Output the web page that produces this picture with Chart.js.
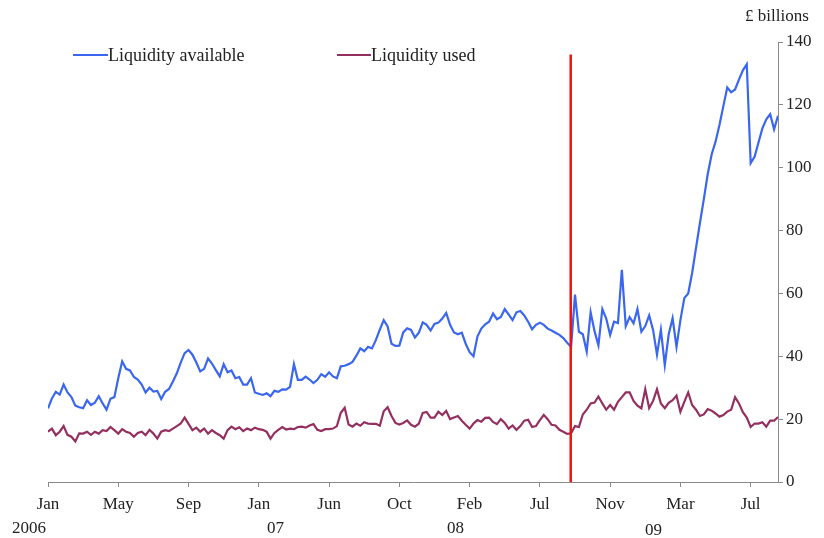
<!DOCTYPE html>
<html lang="en">
<head>
    <meta charset="UTF-8">
    <title>Liquidity available and used</title>
    <script src="https://cdn.jsdelivr.net/npm/chart.js"></script>
    <style>
        body { margin: 0; background: #fff; }
        .wrap { position: relative; width: 824px; height: 538px; font-family: "Liberation Serif", "DejaVu Serif", serif; color: #222; }
        canvas { position: absolute; left: 0; top: 0; }
        .txt { position: absolute; font-size: 17px; line-height: 20px; white-space: nowrap; }
        .legend { font-size: 18px; }
        .key { position: absolute; height: 2px; }
    </style>
</head>
<body>
<div class="wrap">
    <canvas id="liquidityChart" width="824" height="538"></canvas>

    <!-- legend -->
    <div class="key" style="left:73px; top:54px; width:35px; background:#3a66f0;"></div>
    <div class="txt legend" style="left:108px; top:45px;">Liquidity available</div>
    <div class="key" style="left:337px; top:54px; width:34px; background:#94305f;"></div>
    <div class="txt legend" style="left:371px; top:45px;">Liquidity used</div>

    <div class="txt" style="left:745px; top:6px;">£ billions</div>

    <!-- year row under the month ticks -->
    <div class="txt" style="left:12px; top:518px;">2006</div>
    <div class="txt" style="left:267px; top:518px;">07</div>
    <div class="txt" style="left:447px; top:518px;">08</div>
    <div class="txt" style="left:645px; top:520px;">09</div>
</div>

<script>
    // weekly readings, Jan 2006 - Aug 2009, £ billions
    const liquidityAvailable = [
        23.4, 26.6, 28.7, 27.8, 31.0, 28.5, 27.0, 24.3, 23.8, 23.5,
        26.0, 24.5, 25.2, 27.3, 25.0, 23.0, 26.5, 27.0, 33.0, 38.4,
        36.0, 35.5, 33.4, 32.6, 31.0, 28.5, 30.0, 28.8, 29.0, 26.4,
        28.7, 29.6, 32.0, 34.6, 38.0, 41.0, 42.0, 40.5, 38.0, 35.2,
        36.0, 39.3, 37.7, 35.6, 33.6, 37.5, 34.9, 35.5, 33.0, 33.4,
        31.0, 31.0, 33.0, 28.5, 28.1, 27.7, 28.2, 27.3, 29.0, 28.7,
        29.5, 29.4, 30.3, 37.5, 32.5, 32.5, 33.5, 32.6, 31.5, 32.5,
        34.3, 33.5, 34.9, 33.6, 33.0, 36.8, 37.0, 37.5, 38.2, 40.2,
        42.5, 41.6, 43.0, 42.5, 45.2, 48.5, 51.5, 49.5, 44.0, 43.3,
        43.4, 47.6, 48.9, 48.4, 46.0, 47.5, 50.8, 50.0, 48.2, 50.3,
        50.7, 52.0, 53.8, 50.0, 47.6, 47.0, 47.5, 44.0, 41.3, 40.0,
        46.3, 48.8, 50.2, 51.0, 53.6, 51.8, 52.5, 55.0, 53.3, 51.5,
        54.0, 54.4, 53.0, 51.0, 48.6, 50.0, 50.7, 50.0, 48.8, 48.2,
        47.5, 46.8, 45.8, 44.3, 43.0, 59.6, 47.8, 47.0, 41.5, 54.0,
        48.0, 43.5, 55.0, 52.0, 46.8, 51.0, 50.6, 67.5, 49.6, 52.5,
        50.5, 55.0, 47.8, 49.6, 53.0, 48.4, 40.5, 48.4, 37.2, 47.0,
        52.1, 43.0, 51.5, 58.5, 60.0, 66.5, 74.5, 82.4, 90.0, 98.0,
        104.2, 108.3, 113.6, 119.6, 125.5, 124.0, 124.9, 128.0, 131.0, 132.9,
        101.5, 103.5, 108.0, 112.5, 115.4, 117.0, 112.2, 116.5
    ];
    const liquidityUsed = [
        16.0, 17.0, 14.9, 16.0, 17.8, 15.0, 14.4, 12.9, 15.5, 15.4,
        16.0, 15.0, 16.0, 15.4, 16.5, 16.2, 17.5, 16.5, 15.4, 16.8,
        16.0, 15.6, 14.4, 15.6, 16.0, 14.9, 16.6, 15.4, 13.8, 16.0,
        16.5, 16.2, 17.0, 17.8, 18.6, 20.5, 18.5, 16.5, 17.3, 16.0,
        17.0, 15.4, 16.5, 15.6, 14.9, 13.8, 16.5, 17.6, 16.8, 17.4,
        16.2, 17.0, 16.5, 17.3, 16.8, 16.6, 16.0, 13.8, 15.6, 16.6,
        17.5, 16.7, 17.0, 16.8, 17.5, 17.6, 17.3, 18.0, 18.4, 16.6,
        16.2, 16.8, 16.8, 17.0, 17.8, 22.0, 23.6, 18.3, 17.6, 18.6,
        17.9, 19.0, 18.6, 18.5, 18.5, 17.9, 22.5, 23.8, 21.0, 18.8,
        18.3, 18.8, 19.6, 18.2, 17.6, 18.6, 22.0, 22.3, 20.5, 20.5,
        22.4, 21.3, 22.6, 20.0, 20.5, 21.0, 19.5, 18.2, 17.0, 18.6,
        19.7, 19.2, 20.4, 20.5, 19.1, 18.4, 20.0, 18.8, 17.0, 18.0,
        16.6, 17.8, 19.5, 19.8, 17.5, 17.8, 19.7, 21.3, 20.0, 18.2,
        18.0, 16.6, 16.0, 15.3, 15.5, 17.8, 17.5, 21.5, 23.0, 25.0,
        25.3, 27.2, 25.0, 23.0, 24.5, 23.0, 25.5, 27.0, 28.5, 28.5,
        25.8, 24.3, 23.4, 29.5, 23.5, 25.8, 29.5, 25.0, 23.5, 25.2,
        26.0, 27.5, 22.3, 25.5, 28.5, 24.5, 23.0, 21.0, 21.5, 23.2,
        22.7, 21.8, 20.8, 21.3, 22.4, 23.0, 27.0, 25.0, 22.2, 20.5,
        17.5, 18.6, 18.6, 19.0, 17.6, 19.5, 19.5, 20.7
    ];
    // one month label every 18 weeks
    const monthTicks = ['Jan', 'May', 'Sep', 'Jan', 'Jun', 'Oct', 'Feb', 'Jul', 'Nov', 'Mar', 'Jul'];
    const weeksPerTick = 18;
    // mid-September 2008 marker
    const markerWeek = 133.9;
    const markerTop = 136;

    const serif = { family: '"Liberation Serif", "DejaVu Serif", serif', size: 17 };

    const ctx = document.getElementById('liquidityChart').getContext('2d');
    new Chart(ctx, {
        type: 'line',
        data: {
            datasets: [
                {
                    label: 'Marker',
                    data: [{ x: markerWeek, y: 0 }, { x: markerWeek, y: markerTop }],
                    borderColor: '#ee1111',
                    borderWidth: 2.5,
                    pointRadius: 0,
                    order: 0
                },
                {
                    label: 'Liquidity available',
                    data: liquidityAvailable.map((v, i) => ({ x: i, y: v })),
                    borderColor: '#3a66f0',
                    borderWidth: 2.2,
                    pointRadius: 0,
                    tension: 0,
                    order: 1
                },
                {
                    label: 'Liquidity used',
                    data: liquidityUsed.map((v, i) => ({ x: i, y: v })),
                    borderColor: '#94305f',
                    borderWidth: 2.2,
                    pointRadius: 0,
                    tension: 0,
                    order: 1
                }
            ]
        },
        options: {
            responsive: false,
            animation: false,
            layout: { padding: { top: 42, left: 48, right: 0, bottom: 0 } },
            plugins: {
                legend: { display: false },
                tooltip: { enabled: false }
            },
            scales: {
                x: {
                    type: 'linear',
                    min: 0,
                    max: liquidityAvailable.length - 1,
                    grid: { drawOnChartArea: false, tickLength: 5, color: '#8a8a8a' },
                    border: { color: '#8a8a8a', width: 1 },
                    ticks: {
                        stepSize: weeksPerTick,
                        includeBounds: false,
                        autoSkip: false,
                        maxRotation: 0,
                        padding: 7,
                        color: '#222',
                        font: serif,
                        callback: (v) => monthTicks[v / weeksPerTick] ?? ''
                    },
                    afterFit: (scale) => { scale.height = 56; }
                },
                y: {
                    position: 'right',
                    min: 0,
                    max: 140,
                    grid: { drawOnChartArea: false, tickLength: 5, color: '#8a8a8a' },
                    border: { color: '#8a8a8a', width: 1 },
                    ticks: {
                        stepSize: 20,
                        padding: 3,
                        color: '#222',
                        font: serif
                    },
                    afterFit: (scale) => { scale.width = 46; }
                }
            }
        }
    });
</script>
</body>
</html>
